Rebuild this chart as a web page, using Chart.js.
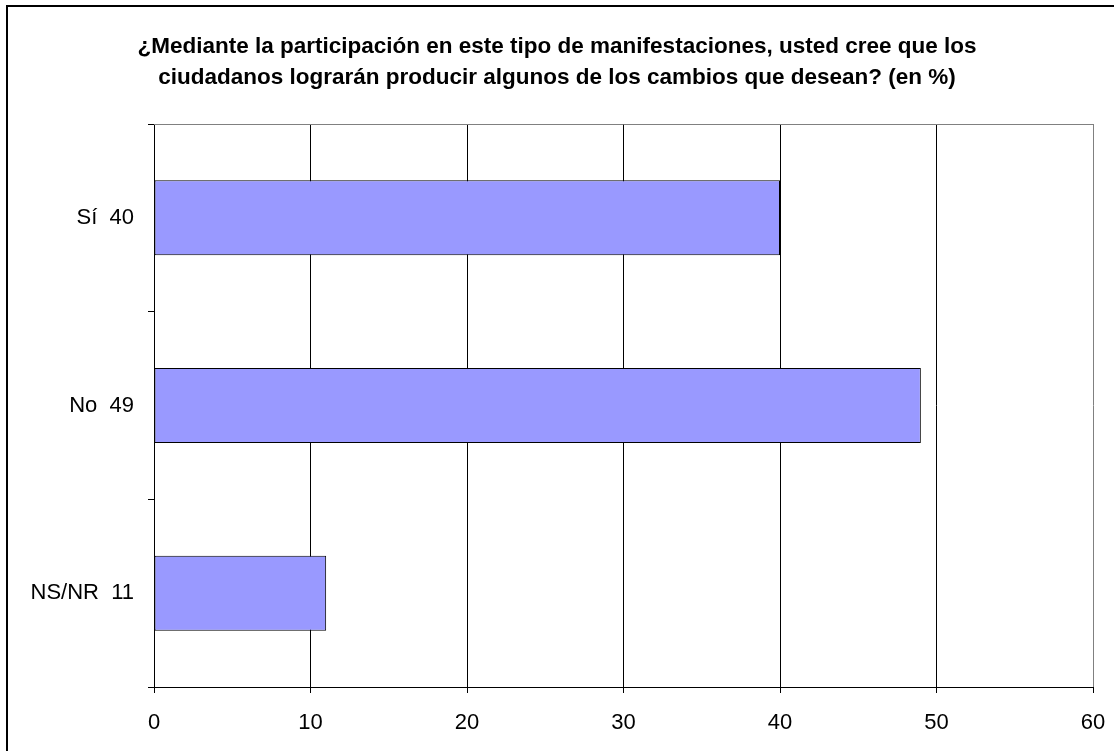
<!DOCTYPE html>
<html>
<head>
<meta charset="utf-8">
<script src="https://cdn.jsdelivr.net/npm/chart.js@4/dist/chart.umd.min.js"></script>
<style>
    html, body { margin: 0; padding: 0; background: #fff; }
    #wrap { width: 1114px; height: 751px; position: relative; }
</style>
</head>
<body>
<div id="wrap"><canvas id="answersChart"></canvas></div>
<script>
// Chart data
const categories = ['Sí  40', 'No  49', 'NS/NR  11'];
const percentValues = [40, 49, 11];
const xTicks = [0, 10, 20, 30, 40, 50, 60];
const titleLines = [
    '¿Mediante la participación en este tipo de manifestaciones, usted cree que los',
    'ciudadanos lograrán producir algunos de los cambios que desean? (en %)'
];

const FONT = '"Liberation Sans", Arial, sans-serif';

// Outer frame (only left/top visible) and gray plot-area top edge
const framePlugin = {
    id: 'frame',
    afterDraw(chart) {
        const ctx = chart.ctx;
        const area = chart.chartArea;
        ctx.save();
        ctx.strokeStyle = '#000';
        ctx.lineWidth = 2;
        ctx.beginPath();
        ctx.moveTo(7, chart.height);
        ctx.lineTo(7, 6);
        ctx.lineTo(chart.width, 6);
        ctx.stroke();

        ctx.strokeStyle = '#808080';
        ctx.lineWidth = 1;
        ctx.beginPath();
        ctx.moveTo(area.left, area.top + 0.5);
        ctx.lineTo(area.right, area.top + 0.5);
        ctx.stroke();
        ctx.restore();
    }
};

const ctx = document.getElementById('answersChart').getContext('2d');
new Chart(ctx, {
    type: 'bar',
    data: {
        labels: categories,
        datasets: [{
            data: percentValues,
            backgroundColor: '#9999FF',
            borderColor: '#000000',
            borderWidth: 1,
            borderSkipped: false,
            categoryPercentage: 1,
            barPercentage: 0.4
        }]
    },
    options: {
        indexAxis: 'y',
        responsive: true,
        maintainAspectRatio: false,
        animation: false,
        layout: { padding: 0 },
        plugins: {
            legend: { display: false },
            tooltip: { enabled: false },
            title: {
                display: true,
                text: titleLines,
                color: '#000',
                font: { family: FONT, size: 22.5, weight: 'bold', lineHeight: 1.378 },
                padding: { top: 31, bottom: 31 }
            }
        },
        scales: {
            x: {
                min: 0,
                max: 60,
                afterBuildTicks(scale) {
                    scale.ticks = xTicks.map(v => ({ value: v }));
                },
                afterFit(scale) {
                    scale.height = 64;
                    scale.paddingRight = 21;
                },
                grid: {
                    color: c => (c.tick && c.tick.value === 60 ? '#808080' : '#000'),
                    lineWidth: 1,
                    drawTicks: true,
                    tickLength: 6,
                    tickColor: '#000'
                },
                border: { color: '#000', width: 1 },
                ticks: {
                    color: '#000',
                    padding: 17,
                    font: { family: FONT, size: 22 }
                }
            },
            y: {
                afterFit(scale) { scale.width = 154; },
                grid: {
                    offset: true,
                    drawOnChartArea: false,
                    drawTicks: true,
                    tickLength: 6,
                    color: '#000'
                },
                border: { color: '#000', width: 1 },
                ticks: {
                    color: '#000',
                    padding: 14,
                    font: { family: FONT, size: 22 }
                }
            }
        }
    },
    plugins: [framePlugin]
});
</script>
</body>
</html>
